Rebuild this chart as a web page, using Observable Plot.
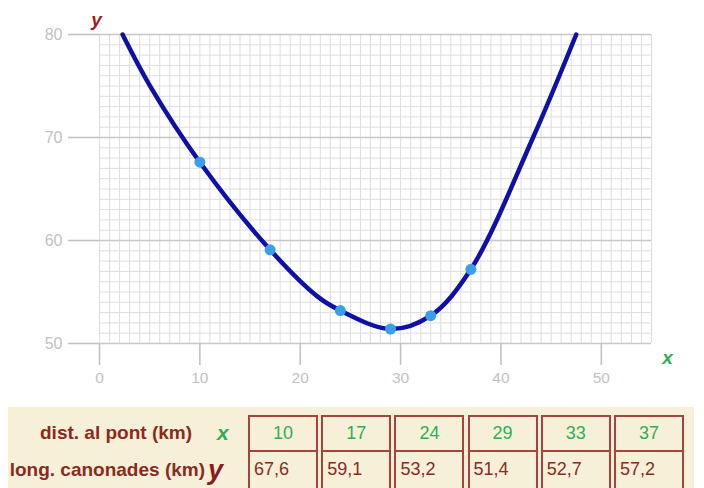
<!DOCTYPE html>
<html>
<head>
<meta charset="utf-8">
<script src="https://cdn.jsdelivr.net/npm/d3@7"></script>
<script src="https://cdn.jsdelivr.net/npm/@observablehq/plot@0.6"></script>
<style>
  html, body { margin: 0; padding: 0; background: #fff; }
  body { width: 704px; height: 488px; overflow: hidden; font-family: "Liberation Sans", Arial, sans-serif; }
  #chart svg { display: block; }
  #tbl {
    position: absolute; left: 8px; top: 407px; width: 686px; height: 81px;
    background: #f7f0d8;
  }
  #tbl div { position: absolute; white-space: nowrap; box-sizing: border-box; }
  .lab { font-weight: bold; font-size: 19px; color: #8a2b22; text-align: right; width: 210px; }
  .lab.r1 { right: 502px; top: 8px; height: 36px; line-height: 36px; }
  .lab.r2 { right: 489px; top: 44px; height: 38px; line-height: 38px; }
  .sym { font-weight: bold; font-style: italic; }
  .sym.x { left: 209px; top: 8px; height: 36px; line-height: 36px; color: #2fae55; font-size: 21px; }
  .sym.y { left: 200px; top: 44px; height: 38px; line-height: 38px; color: #8a1c1c; font-size: 27px; }
  .val { width: 70px; border: 2px solid #a5443c; font-size: 18px; }
  .val.r1 { top: 8px; height: 36px; line-height: 32px; color: #2fae55; text-align: center; border-bottom-width: 1px; }
  .val.r2 { top: 44px; height: 40px; line-height: 34px; color: #8a2b22; text-align: left; padding-left: 4px; border-top-width: 1px; }
</style>
</head>
<body>
<div id="chart"></div>
<div id="tbl"></div>
<script>
// table data
const distX = [10, 17, 24, 29, 33, 37];
const lengthY = [67.6, 59.1, 53.2, 51.4, 52.7, 57.2];
const lengthLabels = ["67,6", "59,1", "53,2", "51,4", "52,7", "57,2"];
// curve
const curveX = [2.3, 5.1, 10, 17, 21.8, 24, 29, 33, 37, 43.2, 47.5];
const curveY = [80, 74.9, 67.6, 59.1, 54.5, 53.2, 51.4, 52.7, 57.2, 70, 80];
// ticks
const xTicks = [0, 10, 20, 30, 40, 50];
const yTicks = [50, 60, 70, 80];
const xMinor = d3.range(0, 56, 1);
const yMinor = d3.range(50, 81, 1);
const rowLabels = ["dist. al pont (km)", "long. canonades (km)"];

const points = distX.map((x, i) => ({x, y: lengthY[i]}));
const curve = curveX.map((x, i) => ({x, y: curveY[i]}));

const chart = Plot.plot({
  width: 704,
  height: 395,
  marginLeft: 99,
  marginRight: 53,
  marginTop: 34,
  marginBottom: 52,
  x: {domain: [0, 55]},
  y: {domain: [50, 80]},
  style: {fontFamily: "'Liberation Sans', Arial, sans-serif", fontSize: "16px", background: "white"},
  marks: [
    Plot.gridX(xMinor, {stroke: "#dedede", strokeOpacity: 1, strokeWidth: 1}),
    Plot.gridY(yMinor, {stroke: "#dedede", strokeOpacity: 1, strokeWidth: 1}),
    Plot.gridY(yTicks, {stroke: "#c8c8c8", strokeOpacity: 1, strokeWidth: 1.6}),
    Plot.axisY(yTicks, {tickSize: 31, tickPadding: 6, color: "#c2c2c2", strokeWidth: 1.6, label: null, fontSize: 16}),
    Plot.axisX(xTicks, {tickSize: 22, tickPadding: 6, color: "#c2c2c2", strokeWidth: 1.6, label: null, fontSize: 15.5}),
    Plot.line(curve, {x: "x", y: "y", curve: "catmull-rom", stroke: "#1010a6", strokeWidth: 4.5}),
    Plot.dot(points, {x: "x", y: "y", r: 5.5, fill: "#3a9fe6", stroke: "none"}),
    Plot.text(["y"], {frameAnchor: "top-left", textAnchor: "middle", lineAnchor: "middle", dx: -3, dy: -15, fill: "#a01c1c", fontSize: 19, fontWeight: "bold", fontStyle: "italic"}),
    Plot.text(["x"], {frameAnchor: "bottom-right", textAnchor: "middle", lineAnchor: "middle", dx: 16, dy: 14, fill: "#2fae55", fontSize: 19, fontWeight: "bold", fontStyle: "italic"})
  ]
});
document.getElementById("chart").appendChild(chart);

// table
const tbl = d3.select("#tbl");
tbl.append("div").attr("class", "lab r1").text(rowLabels[0]);
tbl.append("div").attr("class", "sym x").text("x");
tbl.append("div").attr("class", "lab r2").text(rowLabels[1]);
tbl.append("div").attr("class", "sym y").text("y");
const colLeft = i => (240 + 73.2 * i) + "px";
distX.forEach((v, i) => tbl.append("div").attr("class", "val r1").style("left", colLeft(i)).text(v));
lengthLabels.forEach((v, i) => tbl.append("div").attr("class", "val r2").style("left", colLeft(i)).text(v));
</script>
</body>
</html>
